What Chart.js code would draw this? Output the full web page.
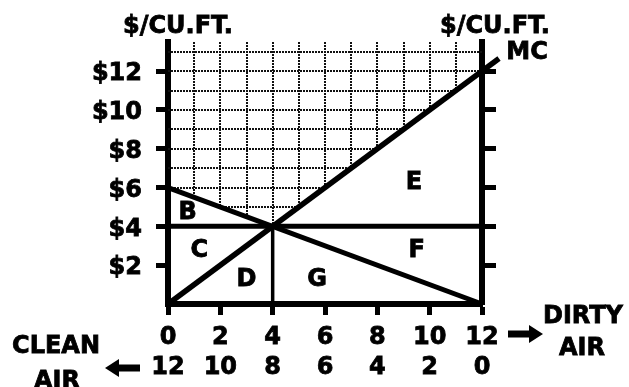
<!DOCTYPE html>
<html>
<head>
<meta charset="utf-8">
<script src="https://cdn.jsdelivr.net/npm/chart.js@4"></script>
<style>
  body { margin: 0; background: #fff; }
  canvas { display: block; }
</style>
</head>
<body>
<canvas id="chart" width="629" height="387"></canvas>
<script>
// lines of the diagram (x = units of dirty air, y = $ per cu.ft.)
const mcPoints = [{x: 0, y: 0}, {x: 12.65, y: 12.65}];
const mbPoints = [{x: 0, y: 6}, {x: 12, y: 0}];
const pricePoints = [{x: 0, y: 4}, {x: 12, y: 4}];
const qtyPoints = [{x: 4, y: 0}, {x: 4, y: 4}];

const xTicks = [0, 2, 4, 6, 8, 10, 12];
const cleanTicks = [12, 10, 8, 6, 4, 2, 0];
const yTicks = [2, 4, 6, 8, 10, 12];

const areaNames = ['B', 'C', 'D', 'E', 'F', 'G'];
const areaX = [0.75, 1.2, 3.0, 9.4, 9.5, 5.7];
const areaY = [4.85, 2.9, 1.4, 6.4, 2.9, 1.4];

const FONT = 'bold 24px "DejaVu Sans"';
const BLACK = '#000';

function setTicks(values) {
    return function (scale) {
        scale.ticks = values.map(v => ({value: v}));
    };
}

// dotted grid above both curves
const hatch = {
    id: 'hatch',
    beforeDatasetsDraw(chart) {
        const {ctx, chartArea: a, scales: {x, y}} = chart;
        ctx.save();
        ctx.beginPath();
        ctx.moveTo(x.getPixelForValue(0), a.top);
        ctx.lineTo(x.getPixelForValue(mbPoints[0].x), y.getPixelForValue(mbPoints[0].y));
        ctx.lineTo(x.getPixelForValue(qtyPoints[1].x), y.getPixelForValue(qtyPoints[1].y));
        ctx.lineTo(x.getPixelForValue(12), y.getPixelForValue(12));
        ctx.lineTo(x.getPixelForValue(12), a.top);
        ctx.closePath();
        ctx.clip();
        ctx.strokeStyle = '#111';
        ctx.lineWidth = 2;
        ctx.setLineDash([2, 1]);
        for (let v = 1; v <= 13; v++) {
            const py = Math.round(y.getPixelForValue(v));
            ctx.beginPath();
            ctx.moveTo(a.left, py);
            ctx.lineTo(a.right, py);
            ctx.stroke();
        }
        for (let v = 1; v <= 11; v++) {
            const px = Math.round(x.getPixelForValue(v));
            ctx.beginPath();
            ctx.moveTo(px, a.top);
            ctx.lineTo(px, a.bottom);
            ctx.stroke();
        }
        ctx.restore();
    }
};

function arrow(ctx, x1, x2, y, dir) {
    const head = 14;
    ctx.save();
    ctx.fillStyle = BLACK;
    if (dir > 0) {
        ctx.fillRect(x1, y - 3.5, x2 - x1 - head + 2, 7);
        ctx.beginPath();
        ctx.moveTo(x2, y);
        ctx.lineTo(x2 - head, y - 9);
        ctx.lineTo(x2 - head, y + 9);
        ctx.closePath();
        ctx.fill();
    } else {
        ctx.fillRect(x1 + head - 2, y - 3.5, x2 - x1 - head + 2, 7);
        ctx.beginPath();
        ctx.moveTo(x1, y);
        ctx.lineTo(x1 + head, y - 9);
        ctx.lineTo(x1 + head, y + 9);
        ctx.closePath();
        ctx.fill();
    }
    ctx.restore();
}

function text(ctx, s, x, y) {
    ctx.fillText(s, x, y + 3);
    ctx.strokeText(s, x, y + 3);
}

const labels = {
    id: 'labels',
    afterDraw(chart) {
        const {ctx, chartArea: a, scales: {x, y}} = chart;
        ctx.save();
        ctx.font = FONT;
        ctx.fillStyle = BLACK;
        ctx.strokeStyle = BLACK;
        ctx.lineWidth = 0.8;
        ctx.textAlign = 'center';
        ctx.textBaseline = 'middle';

        text(ctx, '$/CU.FT.', a.left + 10, a.top - 18);
        text(ctx, '$/CU.FT.', a.right + 13, a.top - 18);
        text(ctx, 'MC', a.right + 45, y.getPixelForValue(12.65) - 9);

        areaNames.forEach((n, i) => {
            text(ctx, n, x.getPixelForValue(areaX[i]), y.getPixelForValue(areaY[i]));
        });

        text(ctx, 'CLEAN', 56, 344);
        text(ctx, 'AIR', 57, 379);
        text(ctx, 'DIRTY', 583, 314);
        text(ctx, 'AIR', 582, 346);

        const x12 = x.getPixelForValue(12);
        const x0 = x.getPixelForValue(0);
        arrow(ctx, x12 + 26, x12 + 61, 334, 1);
        arrow(ctx, x0 - 63, x0 - 28, 368, -1);
        ctx.restore();
    }
};

function lineSet(data, width) {
    return {
        data: data,
        showLine: true,
        borderColor: BLACK,
        borderWidth: width,
        pointRadius: 0,
        clip: false
    };
}

const tickFont = {family: 'DejaVu Sans', size: 24, weight: 'bold', lineHeight: '30px'};

new Chart(document.getElementById('chart').getContext('2d'), {
    type: 'scatter',
    data: {
        datasets: [
            lineSet(mcPoints, 5.5),
            lineSet(mbPoints, 5),
            lineSet(pricePoints, 5),
            lineSet(qtyPoints, 3.5)
        ]
    },
    options: {
        responsive: false,
        animation: false,
        layout: {padding: {top: 42}},
        plugins: {legend: {display: false}, tooltip: {enabled: false}},
        scales: {
            x: {
                type: 'linear',
                min: 0,
                max: 12,
                afterBuildTicks: setTicks(xTicks),
                afterFit(scale) { scale.height = 83; },
                border: {display: true, width: 6, color: BLACK},
                grid: {drawOnChartArea: false, tickLength: 11, tickWidth: 5, tickColor: BLACK},
                ticks: {
                    autoSkip: false,
                    maxRotation: 0,
                    padding: 8,
                    color: BLACK,
                    textStrokeColor: BLACK,
                    textStrokeWidth: 0.8,
                    font: tickFont,
                    callback: (v, i) => [String(xTicks[i]), String(cleanTicks[i])]
                }
            },
            y: {
                type: 'linear',
                position: 'left',
                min: 0,
                max: 13.5,
                afterBuildTicks: setTicks(yTicks),
                afterFit(scale) { scale.width = 168; },
                border: {display: true, width: 6, color: BLACK},
                grid: {drawOnChartArea: false, tickLength: 12, tickWidth: 5, tickColor: BLACK},
                ticks: {
                    padding: 14,
                    labelOffset: 3,
                    color: BLACK,
                    textStrokeColor: BLACK,
                    textStrokeWidth: 0.8,
                    font: tickFont,
                    callback: v => '$' + v
                }
            },
            y2: {
                type: 'linear',
                position: 'right',
                min: 0,
                max: 13.5,
                afterBuildTicks: setTicks(yTicks),
                afterFit(scale) { scale.width = 147; },
                border: {display: true, width: 6, color: BLACK},
                grid: {drawOnChartArea: false, tickLength: 14, tickWidth: 5, tickColor: BLACK},
                ticks: {display: false}
            }
        }
    },
    plugins: [hatch, labels]
});
</script>
</body>
</html>
